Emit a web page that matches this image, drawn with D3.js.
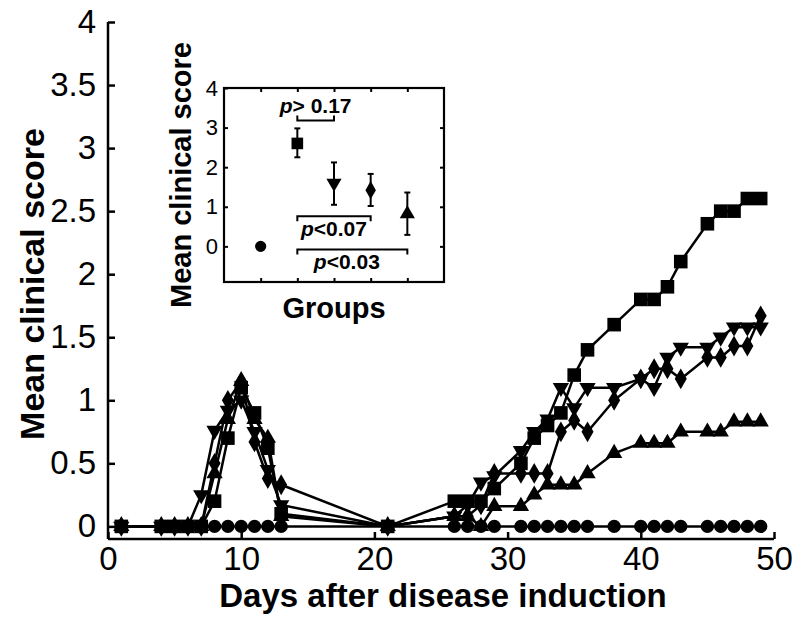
<!DOCTYPE html>
<html><head><meta charset="utf-8">
<script src="https://cdn.jsdelivr.net/npm/d3@7"></script>
<style>
body{margin:0;background:#fff;}
text{font-family:"Liberation Sans",Arial,Helvetica,sans-serif;fill:#000;}
</style></head>
<body><svg id="c" width="800" height="622"></svg>
<script>
// ---- data ----
const days = [1,4,5,6,7,8,9,10,11,12,13,21,26,27,28,29,31,32,33,34,35,36,38,40,41,42,43,45,46,47,48,49];
const circleSeries   = [0,0,0,0,0,0,0,0,0,0,0,0, 0,0,0,0,0,0,0,0,0,0,0,0,0,0,0,0,0,0,0,0];
const downTriSeries  = [0,0,0,0,0.25,0.76,0.92,1.0,0.75,0.45,0.17,0, 0.08,0.17,0.35,0.4,0.6,0.75,0.85,1.1,0.94,1.1,1.1,1.17,1.1,1.34,1.42,1.42,1.5,1.58,1.58,1.58];
const diamondSeries  = [0,0,0,0,0,0.5,1.0,1.15,0.67,0.38,0.33,0, 0.08,0.08,0.17,0.42,0.42,0.42,0.42,0.75,0.84,0.75,1.0,1.17,1.25,1.25,1.17,1.34,1.34,1.43,1.43,1.67];
const triangleSeries = [0,0,0,0,0,0.42,0.85,1.15,0.85,0.7,0.08,0, 0.08,0.08,0,0.16,0.16,0.25,0.33,0.33,0.33,0.42,0.58,0.66,0.66,0.66,0.75,0.75,0.75,0.83,0.83,0.83];
const squareSeries   = [0,0,0,0,0,0.2,0.7,1.1,0.9,0.62,0.1,0, 0.2,0.2,0.2,0.3,0.5,0.7,0.8,0.9,1.2,1.4,1.6,1.8,1.8,1.9,2.1,2.4,2.5,2.5,2.6,2.6];
const xTicks = [0,10,20,30,40,50];
const yTicks = [0,0.5,1,1.5,2,2.5,3,3.5,4];

// inset data
const groupPos   = [1,2,3,4,5];
const groupShape = ["circle","square","downTri","diamond","triangle"];
const groupMean  = [0,2.6,1.6,1.42,0.82];
const groupLow   = [null,2.25,1.05,1.02,0.29];
const groupHigh  = [null,2.98,2.12,1.83,1.36];
const insetYTicks = [0,1,2,3,4];
const brackets = [
  {a:2,b:3,y:3.18,dir:-1,label:"> 0.17",tx:2.5,ty:3.37},
  {a:2,b:4,y:0.76,dir:1,label:"<0.07",tx:3.0,ty:0.25},
  {a:2,b:5,y:-0.08,dir:1,label:"<0.03",tx:3.35,ty:-0.58}
];

const svg = d3.select("#c");
const x = d3.scaleLinear().domain([0,50]).range([108,774]);
const y = d3.scaleLinear().domain([-0.1,4]).range([539,22]);

function sym(shape,size){
  const m = {circle:d3.symbolCircle,square:d3.symbolSquare,triangle:d3.symbolTriangle,downTri:d3.symbolTriangle,diamond:d3.symbolDiamond};
  return d3.symbol().type(m[shape]).size(size)();
}
const rot = s => s==="downTri" ? " rotate(180)" : "";

// axes
const g = svg.append("g");
const yAxis = d3.axisLeft(y).tickValues(yTicks).tickSize(-7).tickPadding(12).tickFormat(d3.format("~g"));
g.append("g").attr("transform","translate(108,0)").call(yAxis)
  .call(a=>a.select(".domain").attr("d","M0,22V539"))
  .call(a=>a.selectAll("line,path").attr("stroke","#000").attr("stroke-width",2.5))
  .call(a=>a.selectAll("text").attr("font-size",33));
const xAxis = d3.axisBottom(x).tickValues(xTicks).tickSize(-7).tickPadding(8).tickFormat(d3.format("d"));
g.append("g").attr("transform","translate(0,539)").call(xAxis)
  .call(a=>a.select(".domain").attr("d","M108,0H774"))
  .call(a=>a.selectAll("line,path").attr("stroke","#000").attr("stroke-width",2.5))
  .call(a=>a.selectAll("text").attr("font-size",33));

svg.append("text").attr("x",(108+774)/2+2).attr("y",607).attr("text-anchor","middle")
  .attr("font-size",33).attr("font-weight","bold").text("Days after disease induction");
svg.append("text").attr("transform","translate(44,284) rotate(-90)").attr("text-anchor","middle")
  .attr("font-size",34).attr("font-weight","bold").text("Mean clinical score");

// series
const series = [
  {shape:"circle",vals:circleSeries,size:140},
  {shape:"downTri",vals:downTriSeries,size:115},
  {shape:"diamond",vals:diamondSeries,size:125},
  {shape:"triangle",vals:triangleSeries,size:115},
  {shape:"square",vals:squareSeries,size:185}
];
const line = d3.line().x(d=>x(d[0])).y(d=>y(d[1]));
series.forEach(s=>{
  const pts = days.map((d,i)=>[d,s.vals[i]]);
  svg.append("path").attr("d",line(pts)).attr("fill","none").attr("stroke","#000").attr("stroke-width",2.5);
});
series.forEach(s=>{
  const pts = days.map((d,i)=>[d,s.vals[i]]);
  svg.append("g").selectAll("path").data(pts).join("path")
    .attr("d",sym(s.shape,s.size))
    .attr("transform",d=>`translate(${x(d[0])},${y(d[1])})`+rot(s.shape))
    .attr("fill","#000");
});

// ---- inset ----
const ix = d3.scaleLinear().domain([0,6]).range([224,444]);
const iy = d3.scaleLinear().domain([-0.9,4]).range([282,88]);
const ig = svg.append("g");
ig.append("rect").attr("x",224).attr("y",88).attr("width",220).attr("height",194)
  .attr("fill","none").attr("stroke","#000").attr("stroke-width",2.2);
ig.append("g").attr("transform","translate(224,0)")
  .call(d3.axisLeft(iy).tickValues(insetYTicks).tickSize(-4).tickPadding(6).tickFormat(d3.format("d")))
  .call(a=>a.select(".domain").remove())
  .call(a=>a.selectAll("line").attr("stroke","#000").attr("stroke-width",2))
  .call(a=>a.selectAll("text").attr("font-size",22));
ig.append("g").attr("transform","translate(444,0)")
  .call(d3.axisRight(iy).tickValues(insetYTicks.slice(0,4)).tickSize(-4).tickFormat(""))
  .call(a=>a.select(".domain").remove())
  .call(a=>a.selectAll("line").attr("stroke","#000").attr("stroke-width",2));
ig.append("g").attr("transform","translate(0,88)")
  .call(d3.axisTop(ix).tickValues(groupPos).tickSize(-4).tickFormat(""))
  .call(a=>a.select(".domain").remove())
  .call(a=>a.selectAll("line").attr("stroke","#000").attr("stroke-width",2));
ig.append("g").attr("transform","translate(0,282)")
  .call(d3.axisBottom(ix).tickValues(groupPos).tickSize(-4).tickFormat(""))
  .call(a=>a.select(".domain").remove())
  .call(a=>a.selectAll("line").attr("stroke","#000").attr("stroke-width",2));

// error bars
groupPos.forEach((p,i)=>{
  if(groupLow[i]==null) return;
  const cx = ix(p);
  ig.append("line").attr("x1",cx).attr("x2",cx).attr("y1",iy(groupLow[i])).attr("y2",iy(groupHigh[i])).attr("stroke","#000").attr("stroke-width",2);
  [groupLow[i],groupHigh[i]].forEach(v=>ig.append("line").attr("x1",cx-3).attr("x2",cx+3).attr("y1",iy(v)).attr("y2",iy(v)).attr("stroke","#000").attr("stroke-width",2));
});
const isz = {circle:100,square:135,downTri:100,diamond:95,triangle:100};
groupPos.forEach((p,i)=>{
  ig.append("path").attr("d",sym(groupShape[i],isz[groupShape[i]]))
    .attr("transform",`translate(${ix(p)},${iy(groupMean[i])})`+rot(groupShape[i])).attr("fill","#000");
});
// brackets
brackets.forEach(b=>{
  const yy = iy(b.y), leg = 5*b.dir;
  ig.append("path").attr("d",`M${ix(b.a)},${yy+leg}V${yy}H${ix(b.b)}V${yy+leg}`)
    .attr("fill","none").attr("stroke","#000").attr("stroke-width",2);
  const t = ig.append("text").attr("x",ix(b.tx)).attr("y",iy(b.ty)).attr("text-anchor","middle")
    .attr("font-size",21).attr("font-weight","bold");
  t.append("tspan").attr("font-style","italic").text("p");
  t.append("tspan").text(b.label);
});
ig.append("text").attr("x",ix(3)).attr("y",318).attr("text-anchor","middle")
  .attr("font-size",29).attr("font-weight","bold").text("Groups");
ig.append("text").attr("transform","translate(191,175) rotate(-90)").attr("text-anchor","middle")
  .attr("font-size",29).attr("font-weight","bold").text("Mean clinical score");
</script></body></html>
